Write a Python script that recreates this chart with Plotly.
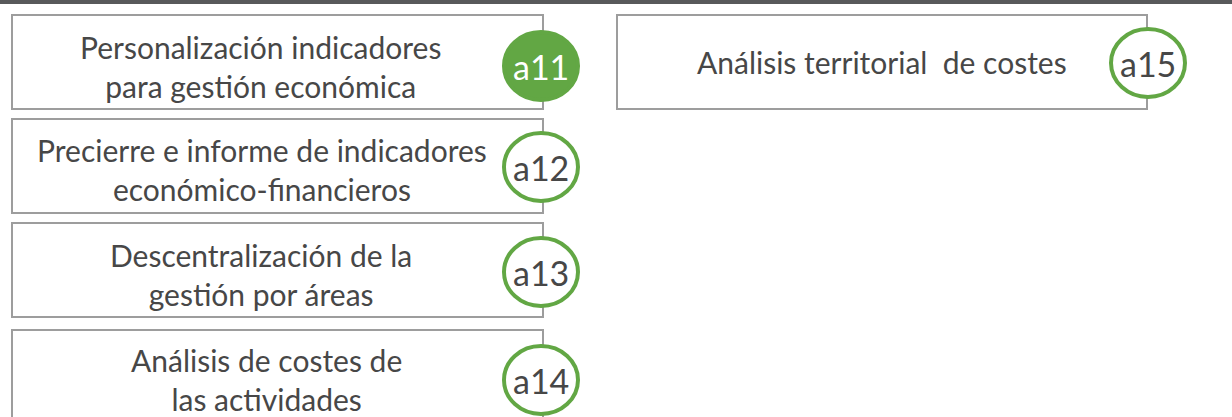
import plotly.graph_objects as go

# Content
labels = [
    "Personalización indicadores<br>para gestión económica",
    "Precierre e informe de indicadores<br>económico-financieros",
    "Descentralización de la<br>gestión por áreas",
    "Análisis de costes de<br>las actividades",
    "Análisis territorial  de costes",
]
codes = ["a11", "a12", "a13", "a14", "a15"]
filled = [True, False, False, False, False]

# Layout (pixel geometry)
box_x0 = [12, 12, 12, 12, 617]
box_x1 = [543, 543, 543, 543, 1147]
box_y0 = [15, 119, 223, 330, 15]
box_y1 = [109, 213, 317, 440, 109]
text_cx = [260, 262, 261, 266, 882]
text_cy = [66, 169, 274, 379, 62]
circ_cx = [541, 541, 541, 541, 1148]
circ_cy = [66, 167, 272, 380, 63]
circ_rx = 37
circ_ry = 34

GREEN = "#62a744"
GRAY_LINE = "#9d9d9d"
TEXT = "#474747"
FONT = "Lato"

fig = go.Figure()
shapes = []
annotations = []

shapes.append(dict(type="rect", xref="x", yref="y", x0=-5, x1=1240, y0=-5, y1=4,
                   fillcolor="#58595b", line=dict(width=0), layer="above"))

for i in range(len(labels)):
    shapes.append(dict(type="rect", xref="x", yref="y",
                       x0=box_x0[i], x1=box_x1[i], y0=box_y0[i], y1=box_y1[i],
                       fillcolor="white", line=dict(color=GRAY_LINE, width=2), layer="above"))
for i in range(len(labels)):
    shapes.append(dict(type="circle", xref="x", yref="y",
                       x0=circ_cx[i] - circ_rx, x1=circ_cx[i] + circ_rx,
                       y0=circ_cy[i] - circ_ry, y1=circ_cy[i] + circ_ry,
                       fillcolor=GREEN if filled[i] else "white",
                       line=dict(color=GREEN, width=4), layer="above"))
    annotations.append(dict(x=text_cx[i], y=text_cy[i], xref="x", yref="y",
                            text=labels[i], showarrow=False,
                            font=dict(family=FONT, size=30, color=TEXT),
                            align="center", xanchor="center", yanchor="middle"))
    annotations.append(dict(x=circ_cx[i], y=circ_cy[i], xref="x", yref="y",
                            text=codes[i], showarrow=False,
                            font=dict(family=FONT, size=34, color="white" if filled[i] else TEXT),
                            xanchor="center", yanchor="middle"))

fig.update_layout(
    width=1232, height=417,
    margin=dict(l=0, r=0, t=0, b=0),
    paper_bgcolor="white", plot_bgcolor="white",
    xaxis=dict(range=[0, 1232], visible=False, fixedrange=True),
    yaxis=dict(range=[417, 0], visible=False, fixedrange=True),
    shapes=shapes, annotations=annotations, showlegend=False,
)
fig.write_html(
    "out.html",
    config={"displayModeBar": False},
    post_script="document.body.style.margin='0';document.body.style.overflow='hidden';",
)
